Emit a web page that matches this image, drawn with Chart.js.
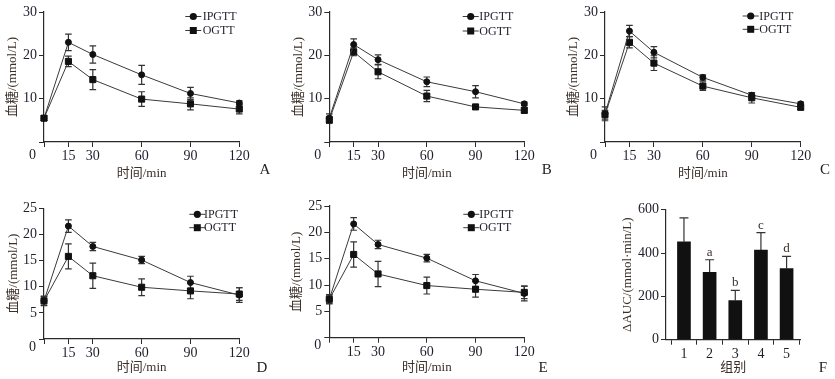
<!DOCTYPE html>
<html><head><meta charset="utf-8">
<script src="https://cdn.jsdelivr.net/npm/chart.js@4.4.1/dist/chart.umd.min.js"></script>
<style>
html,body{margin:0;padding:0;background:#fff;width:835px;height:379px;overflow:hidden;position:relative}
canvas{position:absolute;display:block}
.pl{position:absolute;font:15px 'Liberation Serif',serif;color:#222;transform:translate(-50%,-50%);line-height:1}
</style></head><body>
<canvas id="cA" width="270" height="185" style="left:0;top:0"></canvas>
<canvas id="cB" width="270" height="185" style="left:280px;top:0"></canvas>
<canvas id="cC" width="275" height="185" style="left:560px;top:0"></canvas>
<canvas id="cD" width="270" height="194" style="left:0;top:185px"></canvas>
<canvas id="cE" width="270" height="194" style="left:280px;top:185px"></canvas>
<canvas id="cF" width="275" height="194" style="left:560px;top:185px"></canvas>
<div class="pl" style="left:265px;top:169px">A</div>
<div class="pl" style="left:546.7px;top:169px">B</div>
<div class="pl" style="left:825px;top:169px">C</div>
<div class="pl" style="left:262px;top:366.7px">D</div>
<div class="pl" style="left:543px;top:367px">E</div>
<div class="pl" style="left:823px;top:367px">F</div>
<script>
// ---------- data ----------
const timePoints = [0, 15, 30, 60, 90, 120];
const seriesNames = ['IPGTT', 'OGTT'];
const xTitle = '时间/min';
const yTitle = '血糖/(mmol/L)';

const ipgttA = [5.5, 23.0, 20.2, 15.5, 11.2, 9.0];
const ipgttA_sd = [0.5, 1.9, 2.0, 2.2, 1.4, 0.5];
const ogttA = [5.5, 18.6, 14.4, 9.9, 8.8, 7.6];
const ogttA_sd = [0.5, 1.2, 2.3, 1.7, 1.4, 1.1];

const ipgttB = [5.5, 22.5, 19.0, 13.9, 11.6, 8.8];
const ipgttB_sd = [1.0, 1.3, 1.1, 1.1, 1.4, 0.4];
const ogttB = [5.1, 20.8, 16.2, 10.6, 8.1, 7.3];
const ogttB_sd = [0.8, 0.9, 1.6, 1.3, 0.5, 0.6];

const ipgttC = [6.5, 25.6, 20.7, 14.9, 10.8, 8.8];
const ipgttC_sd = [1.6, 1.3, 1.3, 0.6, 0.6, 0.4];
const ogttC = [6.3, 23.0, 18.2, 12.9, 10.2, 8.0];
const ogttC_sd = [1.0, 1.3, 1.7, 1.0, 1.2, 0.5];

const ipgttD = [7.3, 21.6, 17.7, 15.1, 10.8, 8.4];
const ipgttD_sd = [0.8, 1.2, 0.8, 0.7, 1.2, 1.4];
const ogttD = [7.3, 15.8, 12.1, 9.9, 9.2, 8.6];
const ogttD_sd = [0.9, 2.4, 2.4, 1.6, 1.5, 1.2];

const ipgttE = [7.3, 21.6, 17.7, 15.1, 10.8, 8.4];
const ipgttE_sd = [0.8, 1.2, 0.8, 0.7, 1.2, 1.4];
const ogttE = [7.3, 15.8, 12.1, 9.9, 9.2, 8.6];
const ogttE_sd = [0.9, 2.4, 2.4, 1.6, 1.5, 1.2];

const fGroups = ['1', '2', '3', '4', '5'];
const fValues = [452, 311, 180, 414, 328];
const fErr = [110, 58, 48, 80, 57];
const fLetters = ['', 'a', 'b', 'c', 'd'];
const fXTitle = '组别';
const fYTitle = 'ΔAUC/(mmol·min/L)';

// ---------- styles ----------
const SERIF = "'Liberation Serif', 'Noto Sans CJK SC', serif";
const TICK_COLOR = '#1f1f2c';
const TITLE_COLOR = '#3b2f28';
const AXIS_COLOR = '#2a2a2a';
const LINE_COLOR = '#3a3a3a';
const MARK_COLOR = '#111';

function drawMarker(ctx, style, x, y) {
  ctx.fillStyle = MARK_COLOR;
  if (style === 'rect') {
    ctx.fillRect(x - 3.5, y - 3.5, 7, 7);
  } else {
    ctx.beginPath(); ctx.arc(x, y, 3.6, 0, Math.PI * 2); ctx.fill();
  }
}

const errorBarPlugin = {
  id: 'errorBars',
  beforeDatasetsDraw(chart) { drawErrors(chart, false); },
  afterDatasetsDraw(chart) { drawErrors(chart, true); }
};
function drawErrors(chart, upOnlyPass) {
  const ctx = chart.ctx;
  const ys = chart.scales.y;
  ctx.save();
  ctx.strokeStyle = '#333';
  ctx.lineWidth = 1.2;
  chart.data.datasets.forEach((ds, di) => {
    if (!ds.errors) return;
    if (!!ds.errorUpOnly !== upOnlyPass) return;
    const meta = chart.getDatasetMeta(di);
    meta.data.forEach((el, i) => {
      const v = ds.data[i].y, e = ds.errors[i];
      const x = el.x;
      const yt = ys.getPixelForValue(v + e);
      const yb = ds.errorUpOnly ? ys.getPixelForValue(v) : ys.getPixelForValue(v - e);
      const cw = ds.capWidth || 3.3;
      ctx.beginPath();
      ctx.moveTo(x, yt); ctx.lineTo(x, yb);
      ctx.moveTo(x - cw, yt); ctx.lineTo(x + cw, yt);
      if (!ds.errorUpOnly) { ctx.moveTo(x - cw, yb); ctx.lineTo(x + cw, yb); }
      ctx.stroke();
    });
  });
  ctx.restore();
}

const legendPlugin = {
  id: 'sketchLegend',
  afterDraw(chart, args, opts) {
    if (!opts || !opts.rows) return;
    const {ctx, chartArea} = chart;
    ctx.save();
    chart.data.datasets.forEach((ds, i) => {
      const y = opts.rows[i];
      const x0 = chartArea.right + opts.lineX;
      ctx.strokeStyle = LINE_COLOR; ctx.lineWidth = 1;
      ctx.beginPath(); ctx.moveTo(x0, y); ctx.lineTo(x0 + 16, y); ctx.stroke();
      drawMarker(ctx, ds.pointStyle, x0 + 8, y);
      ctx.fillStyle = TICK_COLOR;
      ctx.font = "12px " + SERIF;
      ctx.textBaseline = 'middle'; ctx.textAlign = 'left';
      ctx.fillText(ds.label, chartArea.right + opts.textX, y + 0.5);
    });
    ctx.restore();
  }
};

const originPlugin = {
  id: 'originLabel',
  afterDraw(chart, args, opts) {
    if (!opts || opts.dy === undefined) return;
    const {ctx, chartArea} = chart;
    ctx.save();
    ctx.fillStyle = TICK_COLOR;
    ctx.font = "14px " + SERIF;
    ctx.textAlign = 'right'; ctx.textBaseline = 'middle';
    ctx.fillText(String(timePoints[0]), chartArea.left - 8, chartArea.bottom + opts.dy);
    ctx.restore();
  }
};

const letterPlugin = {
  id: 'sigLetters',
  afterDatasetsDraw(chart) {
    const {ctx} = chart;
    const ys = chart.scales.y;
    const meta = chart.getDatasetMeta(0);
    ctx.save();
    ctx.font = "13px " + SERIF;
    ctx.fillStyle = TITLE_COLOR;
    ctx.textAlign = 'center'; ctx.textBaseline = 'middle';
    meta.data.forEach((el, i) => {
      if (!fLetters[i]) return;
      ctx.fillText(fLetters[i], el.x, ys.getPixelForValue(fValues[i] + fErr[i]) - 7.5);
    });
    ctx.restore();
  }
};

function axisCommon() {
  return {
    grid: { display: true, drawOnChartArea: false, drawTicks: true, tickLength: 5, color: AXIS_COLOR, lineWidth: 1 },
    border: { display: true, color: AXIS_COLOR, width: 1.2 }
  };
}

function lineChart(id, ip, ipSd, og, ogSd, yMax, yStep, L) {
  const mk = (vals) => timePoints.map((t, i) => ({ x: t, y: vals[i] }));
  const dsBase = { borderColor: LINE_COLOR, borderWidth: 1, tension: 0, clip: false,
    pointBackgroundColor: MARK_COLOR, pointBorderColor: MARK_COLOR, pointBorderWidth: 1 };
  return new Chart(document.getElementById(id), {
    type: 'line',
    data: {
      datasets: [
        Object.assign({}, dsBase, { label: seriesNames[0], data: mk(ip), errors: ipSd, pointStyle: 'circle', pointRadius: 3 }),
        Object.assign({}, dsBase, { label: seriesNames[1], data: mk(og), errors: ogSd, pointStyle: 'rect', pointRadius: 4.3 })
      ]
    },
    options: {
      responsive: false, animation: false, devicePixelRatio: 1,
      layout: { padding: { left: 0, right: L.padR, top: L.padT, bottom: 0 } },
      plugins: {
        legend: { display: false }, tooltip: { enabled: false },
        sketchLegend: { rows: L.rows, lineX: L.lineX, textX: L.textX },
        originLabel: { dy: L.originDy }
      },
      scales: {
        x: Object.assign(axisCommon(), {
          type: 'linear', min: timePoints[0], max: timePoints[timePoints.length - 1],
          afterBuildTicks: (s) => { s.ticks = timePoints.map(v => ({ value: v })); },
          afterFit: (s) => { s.height = L.xH; },
          ticks: { autoSkip: false, maxRotation: 0, padding: 1, color: TICK_COLOR,
            font: { family: SERIF, size: 14 }, callback: (v) => v === 0 ? '' : String(v) },
          title: { display: true, text: xTitle, color: TITLE_COLOR, font: { family: SERIF, size: 13 },
            padding: { top: 0, bottom: L.xTitlePad } }
        }),
        y: Object.assign(axisCommon(), {
          min: 0, max: yMax,
          afterFit: (s) => { s.width = L.yW; },
          ticks: { stepSize: yStep, padding: 2, color: TICK_COLOR,
            font: { family: SERIF, size: 14 }, callback: (v) => v === 0 ? '' : String(v) },
          title: { display: true, text: yTitle, color: TITLE_COLOR, font: { family: SERIF, size: 13 },
            padding: { top: L.yTitlePad, bottom: 0 } }
        })
      }
    },
    plugins: [errorBarPlugin, legendPlugin, originPlugin]
  });
}

lineChart('cA', ipgttA, ipgttA_sd, ogttA, ogttA_sd, 30, 10,
  { padR: 30.7, padT: 12, yW: 44, xH: 43, yTitlePad: 5.2, xTitlePad: 3.2, rows: [16.5, 30.5], lineX: -54, textX: -36.6, originDy: 13 });
lineChart('cB', ipgttB, ipgttB_sd, ogttB, ogttB_sd, 30, 10,
  { padR: 25.7, padT: 12, yW: 49.3, xH: 43, yTitlePad: 10.5, xTitlePad: 3.2, rows: [16.5, 31], lineX: -61.6, textX: -45, originDy: 13 });
lineChart('cC', ipgttC, ipgttC_sd, ogttC, ogttC_sd, 30, 10,
  { padR: 34.3, padT: 12, yW: 45, xH: 43, yTitlePad: 5.5, xTitlePad: 3.2, rows: [16, 29.3], lineX: -58, textX: -41.4, originDy: 13 });
lineChart('cD', ipgttD, ipgttD_sd, ogttD, ogttD_sd, 25, 5,
  { padR: 30.7, padT: 23.3, yW: 44, xH: 40, yTitlePad: 5.5, xTitlePad: 3.5, rows: [29.3, 42.7], lineX: -50, textX: -35.3, originDy: 8 });
lineChart('cE', ipgttE, ipgttE_sd, ogttE, ogttE_sd, 25, 5,
  { padR: 25.7, padT: 21, yW: 49.3, xH: 41.3, yTitlePad: 8.9, xTitlePad: 3.5, rows: [29.3, 42.7], lineX: -61, textX: -45, originDy: 8 });

new Chart(document.getElementById('cF'), {
  type: 'bar',
  data: {
    datasets: [{
      label: 'ΔAUC', data: fGroups.map((g, i) => ({ x: i + 1, y: fValues[i] })),
      backgroundColor: MARK_COLOR, borderWidth: 0, barThickness: 13,
      errors: fErr, errorUpOnly: true, capWidth: 4.5
    }]
  },
  options: {
    responsive: false, animation: false, devicePixelRatio: 1,
    layout: { padding: { left: 0, right: 34.3, top: 24.7, bottom: 0 } },
    plugins: { legend: { display: false }, tooltip: { enabled: false } },
    scales: {
      x: Object.assign(axisCommon(), {
        type: 'linear', min: 0.3, max: 5.55, offset: false,
        afterBuildTicks: (s) => { s.ticks = fGroups.map((g, i) => ({ value: i + 1 })); },
        afterFit: (s) => { s.height = 39.3; },
        ticks: { autoSkip: false, maxRotation: 0, padding: 1, color: TICK_COLOR,
          font: { family: SERIF, size: 14 }, callback: (v) => fGroups[Math.round(v) - 1] },
        title: { display: true, text: fXTitle, color: TITLE_COLOR, font: { family: SERIF, size: 13 },
          padding: { top: 0, bottom: 3.5 } }
      }),
      y: Object.assign(axisCommon(), {
        min: 0, max: 600,
        afterFit: (s) => { s.width = 106; },
        ticks: { stepSize: 200, padding: 2, color: TICK_COLOR, font: { family: SERIF, size: 14 } },
        title: { display: true, text: fYTitle, color: TITLE_COLOR, font: { family: SERIF, size: 13 },
          padding: { top: 60.2, bottom: 0 } }
      })
    }
  },
  plugins: [errorBarPlugin, letterPlugin]
});
</script>
</body></html>
